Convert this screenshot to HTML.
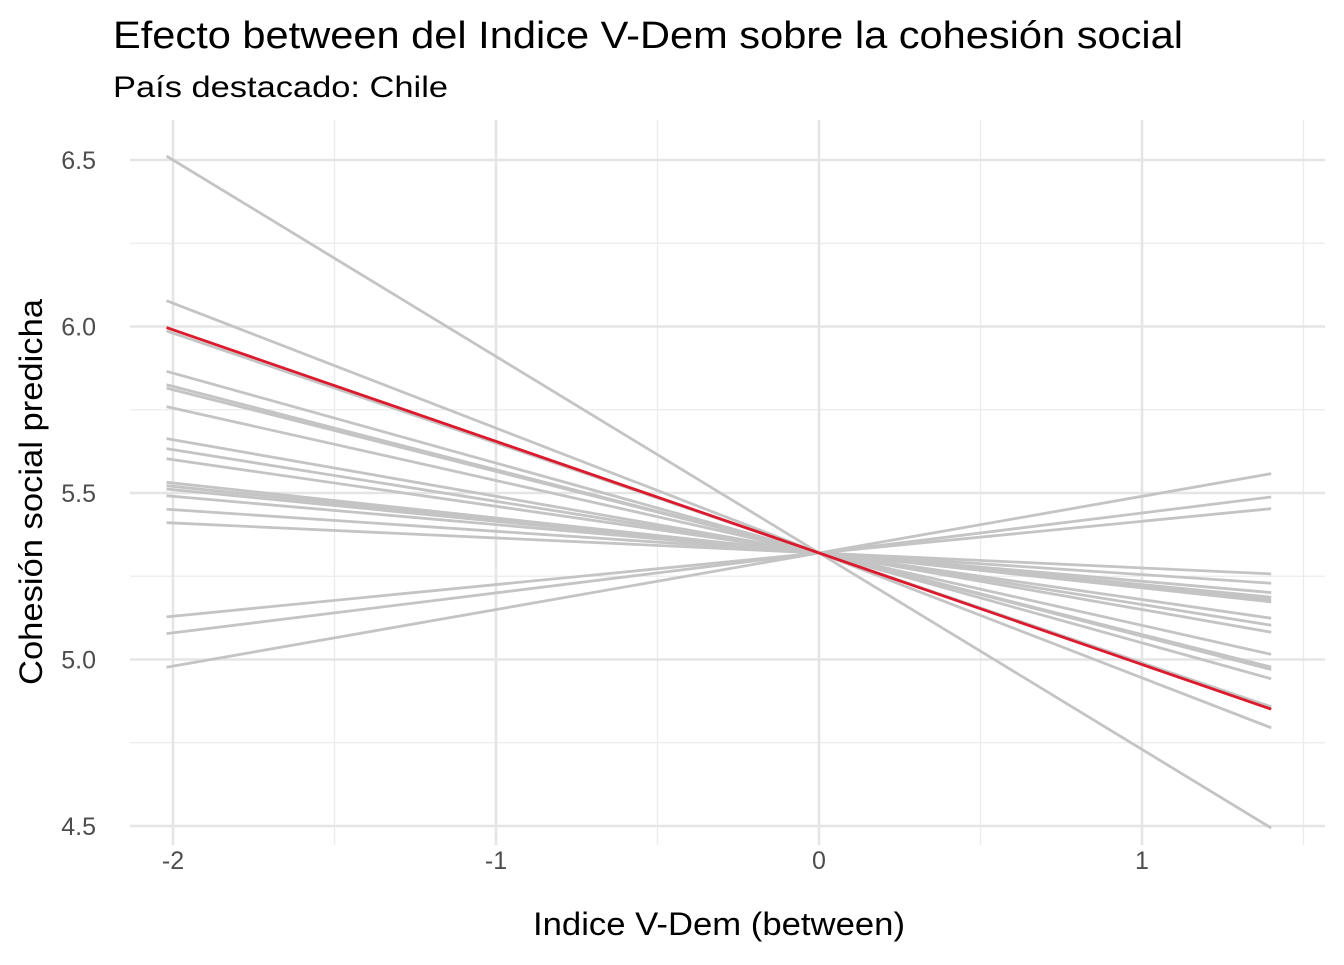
<!DOCTYPE html>
<html><head><meta charset="utf-8"><style>
body{margin:0;background:#fff;}
svg text{font-family:"Liberation Sans",Arial,sans-serif;}
</style></head><body>
<svg width="1344" height="960">
<text x="113" y="48" font-size="38" textLength="1070" lengthAdjust="spacingAndGlyphs" fill="#000">Efecto between del Indice V-Dem sobre la cohesión social</text>
<text x="113" y="97" font-size="30" textLength="335" lengthAdjust="spacingAndGlyphs" fill="#000">País destacado: Chile</text>
<g id="grid"></g>
<g id="ticks"></g>
<g id="lines"></g>
<text x="719" y="935" font-size="32" textLength="372" lengthAdjust="spacingAndGlyphs" text-anchor="middle" fill="#000">Indice V-Dem (between)</text>
<text transform="translate(42,492) rotate(-90)" font-size="32" textLength="386" lengthAdjust="spacingAndGlyphs" text-anchor="middle" fill="#000">Cohesión social predicha</text>
</svg>
<script>
const intercept = 5.32;
const countrySlopes = [-0.59,-0.375,-0.33,-0.27,-0.25,-0.245,-0.2175,-0.17,-0.155,-0.14,-0.105,-0.10,-0.095,-0.085,-0.065,-0.045,0.095,0.12,0.17];
const chileSlope = -0.335;
const xTicks = [-2,-1,0,1];
const xTickLabels = ["-2","-1","0","1"];
const yTicks = [4.5,5.0,5.5,6.0,6.5];
const yTickLabels = ["4.5","5.0","5.5","6.0","6.5"];
const xMin = -2.02, xMax = 1.4;

const X = v => 819 + v*323;
const Y = v => 160 + (6.5 - v)*333;
const NS = "http://www.w3.org/2000/svg";
function mk(tag, attrs, parent){const e=document.createElementNS(NS,tag);for(const k in attrs)e.setAttribute(k,attrs[k]);parent.appendChild(e);return e;}
const grid=document.getElementById('grid'), ticks=document.getElementById('ticks'), lines=document.getElementById('lines');
const L=130,R=1325,T=120,B=845;
for(let v=4.75; v<6.6; v+=0.5){const e=mk('line',{x1:L,x2:R,y1:Y(v),y2:Y(v),stroke:'#ebebeb','stroke-width':1.3},grid);

}
for(let v=-1.5; v<1.6; v+=1){const e=mk('line',{x1:X(v),x2:X(v),y1:T,y2:B,stroke:'#ebebeb','stroke-width':1.3},grid);

}
yTicks.forEach((v,i)=>{const e=mk('line',{x1:L,x2:R,y1:Y(v),y2:Y(v),stroke:'#e5e5e5','stroke-width':2.6},grid);


const t=mk('text',{x:96,y:Y(v)+9,'font-size':25,'text-anchor':'end',fill:'#4d4d4d'},ticks);t.textContent=yTickLabels[i];

});
xTicks.forEach((v,i)=>{const e=mk('line',{x1:X(v),x2:X(v),y1:T,y2:B,stroke:'#e5e5e5','stroke-width':2.6},grid);


const t=mk('text',{x:X(v),y:869,'font-size':25,'text-anchor':'middle',fill:'#4d4d4d'},ticks);t.textContent=xTickLabels[i];

});
countrySlopes.forEach(s=>{const e=mk('line',{x1:X(xMin),y1:Y(intercept+s*xMin),x2:X(xMax),y2:Y(intercept+s*xMax),stroke:'#c4c4c4','stroke-width':2.8},lines);

});
const c=mk('line',{x1:X(xMin),y1:Y(intercept+chileSlope*xMin),x2:X(xMax),y2:Y(intercept+chileSlope*xMax),stroke:'#dc1a2e','stroke-width':2.8},lines);


</script>
</body></html>
